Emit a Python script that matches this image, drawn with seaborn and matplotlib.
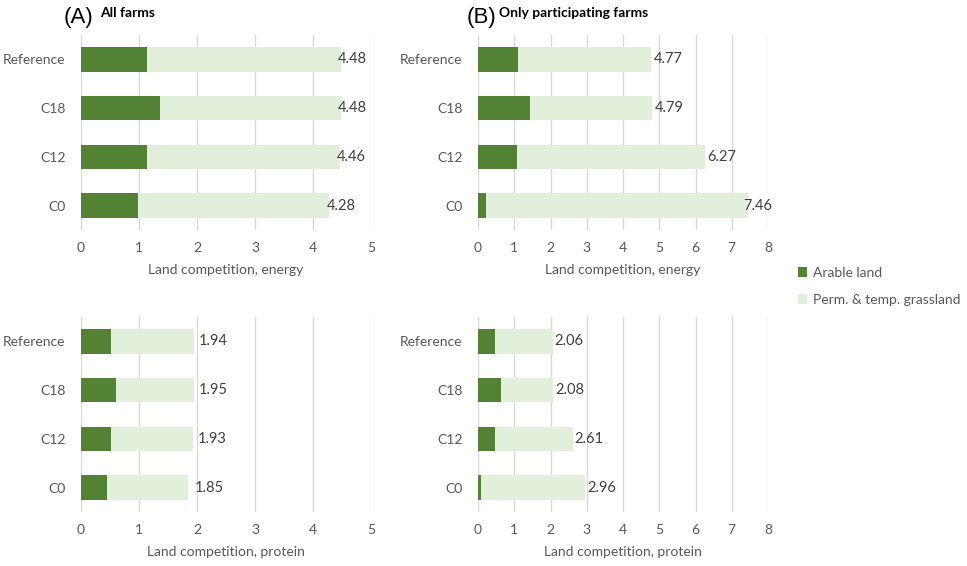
import matplotlib
matplotlib.use("Agg")
import matplotlib.pyplot as plt
import seaborn as sns
import pandas as pd
from matplotlib.patches import Patch

categories = ["Reference", "C18", "C12", "C0"]

# Panel A (all farms)
a_energy_total = [4.48, 4.48, 4.46, 4.28]
a_energy_arable = [1.14, 1.36, 1.14, 0.98]
a_protein_total = [1.94, 1.95, 1.93, 1.85]
a_protein_arable = [0.51, 0.60, 0.51, 0.44]

# Panel B (only participating farms)
b_energy_total = [4.77, 4.79, 6.27, 7.46]
b_energy_arable = [1.10, 1.44, 1.08, 0.21]
b_protein_total = [2.06, 2.08, 2.61, 2.96]
b_protein_arable = [0.48, 0.63, 0.48, 0.09]

series_names = ["Arable land", "Perm. & temp. grassland"]
dark = "#548235"
light = "#E2EFDA"
grid_c = "#D9D9D9"
txt = "#595959"

sns.set_theme(style="white")
plt.rcParams["font.family"] = ["Lato", "DejaVu Sans"]

W, H = 967, 566
fig = plt.figure(figsize=(W / 100, H / 100), dpi=100)


def px_axes(x0, y0, x1, y1):
    return fig.add_axes([x0 / W, 1 - y1 / H, (x1 - x0) / W, (y1 - y0) / H])


def draw(ax, total, arable, xmax, xlabel, label_offsets):
    df = pd.DataFrame({"cat": categories, "total": total, "arable": arable})
    sns.barplot(data=df, y="cat", x="total", color=light, width=0.5,
                orient="h", ax=ax, saturation=1, linewidth=0)
    sns.barplot(data=df, y="cat", x="arable", color=dark, width=0.5,
                orient="h", ax=ax, saturation=1, linewidth=0)
    ax.set_xlim(0, xmax)
    ax.set_ylim(3.5, -0.5)
    ax.set_xticks(range(0, xmax + 1))
    ax.grid(axis="x", color=grid_c, linewidth=1)
    ax.set_axisbelow(True)
    for s in ax.spines.values():
        s.set_visible(False)
    ax.tick_params(axis="both", length=0, colors=txt, labelsize=10)
    ax.tick_params(axis="y", pad=11)
    ax.tick_params(axis="x", pad=9)
    ax.set_ylabel("")
    ax.set_xlabel(xlabel, color=txt, fontsize=10, labelpad=7)
    for i, v in enumerate(total):
        ax.annotate(f"{v:.2f}", xy=(v, i), xytext=(label_offsets[i], 0),
                    textcoords="offset pixels", va="center", ha="left",
                    color="#404040", fontsize=10.5)


ax1 = px_axes(81, 35, 371, 230)
draw(ax1, a_energy_total, a_energy_arable, 5, "Land competition, energy",
     [-3, -3, -3, -2])
ax2 = px_axes(478, 35, 768, 230)
draw(ax2, b_energy_total, b_energy_arable, 8, "Land competition, energy",
     [3, 3, 2, -5])
ax3 = px_axes(81, 317, 371, 512)
draw(ax3, a_protein_total, a_protein_arable, 5, "Land competition, protein",
     [5, 5, 5, 6])
ax4 = px_axes(478, 317, 768, 512)
draw(ax4, b_protein_total, b_protein_arable, 8, "Land competition, protein",
     [2, 2, 2, 2])

# Panel titles
fig.text(64 / W, 1 - 17 / H, "(A)", fontsize=16, color="#000000", va="center",
         ha="left", family="Liberation Sans")
fig.text(100 / W, 1 - 13 / H, "All farms", fontsize=10, fontweight="bold",
         color="#000000", va="center", ha="left")
fig.text(467 / W, 1 - 17 / H, "(B)", fontsize=16, color="#000000", va="center",
         ha="left", family="Liberation Sans")
fig.text(499 / W, 1 - 13 / H, "Only participating farms", fontsize=10,
         fontweight="bold", color="#000000", va="center", ha="left")

# Legend
handles = [Patch(facecolor=dark, edgecolor="none"), Patch(facecolor=light, edgecolor="none")]
leg = fig.legend(handles, series_names, loc="upper left",
                 bbox_to_anchor=(785 / W, 1 - 254 / H), frameon=False,
                 fontsize=10, handlelength=0.7, handleheight=0.7,
                 handletextpad=0.4, labelspacing=1.1, labelcolor=txt)

fig.savefig("out.png", dpi=100)
